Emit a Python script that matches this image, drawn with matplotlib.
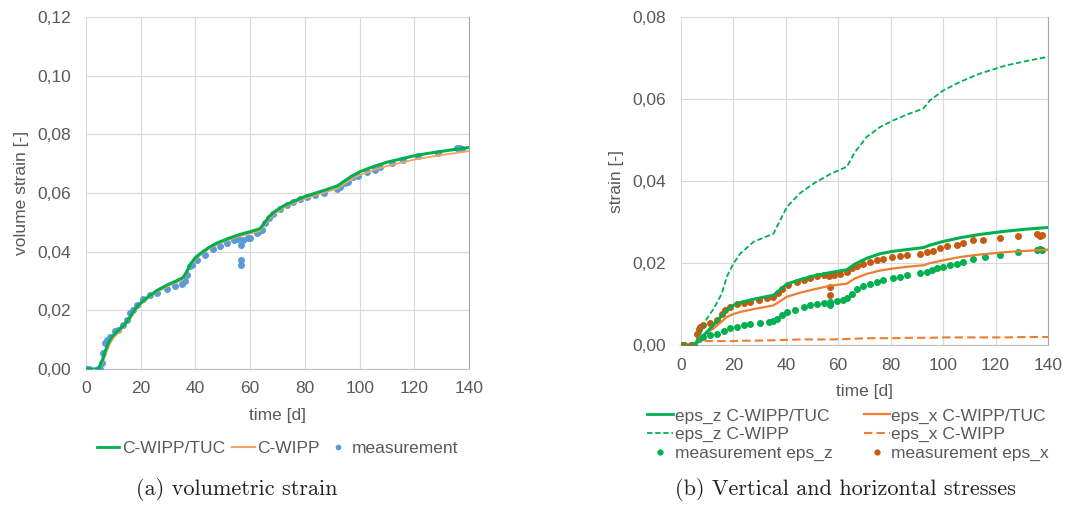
import matplotlib
matplotlib.use("Agg")
import matplotlib.pyplot as plt
from matplotlib.ticker import FuncFormatter, MultipleLocator
from matplotlib.lines import Line2D

# ---- (a) volumetric strain ----
t_model_a = [0, 4.5, 6, 7, 8, 9, 10, 12, 14, 16, 18, 20, 23, 26, 30, 33, 35.5, 37, 38.5, 40,
             42, 45, 48, 52, 56, 60, 63.5, 65, 67, 69, 72, 76, 80, 85, 89, 92, 94, 97, 100,
             105, 110, 115, 120, 125, 130, 135, 140]
vol_tuc = [0, 0, 0.003, 0.006, 0.0085, 0.0103, 0.0115, 0.0133, 0.015, 0.0175, 0.0205, 0.0225,
           0.0248, 0.0268, 0.0288, 0.030, 0.0312, 0.0335, 0.0362, 0.038, 0.0395, 0.0415, 0.043,
           0.0445, 0.0458, 0.0468, 0.0478, 0.0495, 0.052, 0.0537, 0.0555, 0.0572, 0.0588, 0.0603,
           0.0615, 0.0625, 0.0638, 0.0657, 0.0672, 0.069, 0.0705, 0.0716, 0.0727, 0.0735, 0.0742,
           0.0749, 0.0755]
vol_wipp = [0, 0, 0.002, 0.0045, 0.007, 0.009, 0.0105, 0.0125, 0.0145, 0.017, 0.0198, 0.022,
            0.0243, 0.0263, 0.0282, 0.0295, 0.0305, 0.033, 0.0357, 0.0375, 0.039, 0.041, 0.0425,
            0.044, 0.0452, 0.0462, 0.047, 0.0488, 0.0512, 0.053, 0.0548, 0.0566, 0.0581, 0.0596,
            0.0607, 0.0616, 0.0629, 0.0647, 0.0661, 0.0678, 0.0692, 0.0703, 0.0714, 0.0722, 0.073,
            0.0736, 0.0743]
t_meas_a = [0, 0.5, 1, 4.5, 5.1, 5.7, 6.3, 7, 7.6, 8.8, 10.6, 11.8, 13.6, 14.9, 16.1, 17.3, 18.5,
            21, 23.4, 25.8, 29.5, 32.5, 35, 36.2, 36.8, 38, 38.6, 40.4, 43.5, 46.5, 49, 51.4,
            53.9, 55.7, 56.5, 56.5, 56.5, 57.5, 59.3, 60, 62.4, 63, 64.2, 65.4, 66.7, 68.5, 70.9,
            73.4, 75.8, 78.2, 80.7, 83.7, 86.8, 91.6, 92.8, 94.7, 95.9, 97.7, 99.5, 102.6, 105.6,
            107.5, 111.7, 116, 121.5, 128.8, 135.5, 136.7, 137.3]
vol_meas = [0, 0, 0, 0, 0, 0.002, 0.0054, 0.0088, 0.010, 0.011, 0.0128, 0.0134, 0.015, 0.0168,
            0.019, 0.0202, 0.0219, 0.024, 0.0253, 0.026, 0.0274, 0.0284, 0.029, 0.030, 0.032,
            0.035, 0.0355, 0.037, 0.039, 0.041, 0.042, 0.0429, 0.0438, 0.0442, 0.0423, 0.0372,
            0.0353, 0.044, 0.0445, 0.0447, 0.0463, 0.0468, 0.0474, 0.0497, 0.0514, 0.053, 0.0544,
            0.0559, 0.057, 0.0578, 0.0587, 0.0593, 0.0601, 0.0612, 0.0619, 0.0633, 0.0638, 0.0656,
            0.0659, 0.0673, 0.068, 0.069, 0.0701, 0.0712, 0.0726, 0.0737, 0.0752, 0.0752, 0.0749]

# ---- (b) vertical and horizontal strains ----
t_model_b = [0, 5, 7.4, 9.9, 12.5, 15.6, 17.5, 20, 22.6, 27.7, 35.3, 40.4, 45.5, 50.6, 56.9,
             63.3, 66.4, 70.9, 76, 81, 86.1, 92.5, 95, 100.1, 106.5, 114, 124, 132, 140]
z_wipp = [0, 0, 0.0028, 0.0065, 0.0089, 0.0126, 0.0167, 0.0199, 0.0223, 0.0252, 0.0272, 0.0337,
          0.0371, 0.0394, 0.0417, 0.0435, 0.0471, 0.0508, 0.0532, 0.0548, 0.0562, 0.0577, 0.0597,
          0.0621, 0.0642, 0.0662, 0.0682, 0.0693, 0.0703]
z_tuc = [0, 0, 0.0016, 0.0032, 0.005, 0.0072, 0.0085, 0.0097, 0.0104, 0.0112, 0.0122, 0.0149,
         0.016, 0.0169, 0.0177, 0.0184, 0.0198, 0.0212, 0.0223, 0.0229, 0.0233, 0.0238, 0.0244,
         0.0253, 0.0262, 0.027, 0.0278, 0.0283, 0.0287]
x_tuc = [0, 0, 0.002, 0.0031, 0.0041, 0.0058, 0.0069, 0.0076, 0.0081, 0.0088, 0.0097, 0.0118,
         0.0128, 0.0136, 0.0145, 0.015, 0.0163, 0.0174, 0.0182, 0.0187, 0.0191, 0.0195, 0.02,
         0.0207, 0.0215, 0.0221, 0.0227, 0.023, 0.0233]
x_wipp = [0, 0, 0.001, 0.001, 0.001, 0.001, 0.001, 0.001, 0.0011, 0.0011, 0.0012, 0.0013,
          0.0014, 0.0014, 0.0014, 0.0015, 0.0016, 0.0017, 0.0017, 0.0017, 0.0018, 0.0018, 0.0018,
          0.0019, 0.0019, 0.0019, 0.0019, 0.002, 0.002]

t_meas_z = [0, 1, 4, 5, 6.7, 8.6, 11.2, 13.7, 16.3, 18.8, 21.3, 23.9, 26.4, 30.2, 33.4, 35.3,
            36.6, 38.5, 40.4, 43.6, 46.8, 49.3, 51.8, 54.4, 56.9, 56.9, 56.9, 59.5, 62, 63.3,
            65.2, 67.1, 69.6, 72.2, 74.7, 77.2, 81, 83.6, 86.1, 91.2, 93.8, 95.7, 97.6, 100.1,
            102.7, 105.2, 107.7, 111.5, 116, 121.7, 128.7, 135.7, 137, 137.6]
meas_z = [0, 0, 0, 0, 0.0014, 0.0019, 0.0024, 0.0028, 0.0035, 0.0041, 0.0045, 0.0049, 0.0051,
          0.0054, 0.0057, 0.0059, 0.0065, 0.0073, 0.008, 0.0087, 0.0093, 0.0097, 0.010, 0.0103,
          0.0106, 0.0101, 0.0098, 0.0108, 0.0111, 0.0114, 0.0126, 0.0136, 0.0144, 0.015, 0.0154,
          0.0158, 0.0164, 0.0167, 0.017, 0.0175, 0.0179, 0.0183, 0.0187, 0.0191, 0.0195, 0.0199,
          0.0203, 0.0209, 0.0214, 0.0219, 0.0226, 0.0231, 0.0234, 0.0232]
t_meas_x = [0, 1, 4, 6.1, 6.7, 7.4, 8.6, 11.2, 13.7, 15.6, 16.9, 18.8, 21.3, 23.9, 26.4, 29.6,
            32.8, 35.3, 37.2, 38.5, 41, 44.2, 46.8, 49.3, 51.8, 54.4, 56.6, 57, 57, 58.2, 60.7,
            63.3, 65.2, 67.1, 69.6, 72.2, 74.7, 77.2, 80.4, 83.6, 86.1, 91.2, 93.8, 96.3, 98.8,
            101.4, 105.2, 107.7, 111.5, 115.4, 121.7, 128.7, 135.7, 137, 137.6]
meas_x = [0, 0, 0, 0.0028, 0.004, 0.0045, 0.0049, 0.0054, 0.0061, 0.0077, 0.0085, 0.0093, 0.010,
          0.0103, 0.0106, 0.011, 0.0114, 0.0118, 0.0128, 0.0136, 0.0146, 0.0154, 0.016, 0.0165,
          0.0168, 0.017, 0.0168, 0.0142, 0.0122, 0.017, 0.0173, 0.0179, 0.0187, 0.0192, 0.0199,
          0.0203, 0.0207, 0.021, 0.0214, 0.0217, 0.0219, 0.0223, 0.0226, 0.0229, 0.0238, 0.0241,
          0.0245, 0.0248, 0.0256, 0.0257, 0.0262, 0.0266, 0.027, 0.0266, 0.0268]

GREEN = "#00B050"
ORANGE = "#ED7D31"
ORANGE_LIGHT = "#F4A261"
BROWN = "#C55A11"
BLUE = "#5B9BD5"
TXT = "#595959"
GRID = "#D9D9D9"

plt.rcParams["font.family"] = ["Liberation Sans", "DejaVu Sans"]
plt.rcParams["font.size"] = 12

comma = FuncFormatter(lambda v, p: f"{v:.2f}".replace(".", ","))


def style_axes(ax, ymax):
    ax.set_xlim(0, 140)
    ax.set_ylim(0, ymax)
    ax.xaxis.set_major_locator(MultipleLocator(20))
    ax.yaxis.set_major_locator(MultipleLocator(0.02))
    ax.yaxis.set_major_formatter(comma)
    ax.grid(True, color=GRID, lw=0.8)
    ax.set_axisbelow(True)
    for s in ["top", "left"]:
        ax.spines[s].set_visible(False)
    ax.spines["bottom"].set_color("#BFBFBF")
    ax.spines["right"].set_color("#A6A6A6")
    ax.tick_params(length=0, colors=TXT, labelsize=12.5)
    ax.tick_params(axis="y", pad=11)
    ax.tick_params(axis="x", pad=9)


fig = plt.figure(figsize=(10.7, 5.16), dpi=100)

ax1 = fig.add_axes([0.0804, 0.285, 0.358, 0.682])
style_axes(ax1, 0.12)
ax1.plot(t_meas_a, vol_meas, "o", color=BLUE, ms=4, label="measurement", zorder=3)
ax1.plot(t_model_a, vol_wipp, color=ORANGE_LIGHT, lw=1.3, label="C-WIPP", zorder=4)
ax1.plot(t_model_a, vol_tuc, color=GREEN, lw=2.2, label="C-WIPP/TUC", zorder=5)
ax1.set_xlabel("time [d]", color=TXT, fontsize=12.5, labelpad=8)
ax1.set_ylabel("volume strain [-]", color=TXT, fontsize=12.5, labelpad=6)
h1 = [Line2D([], [], color=GREEN, lw=2), Line2D([], [], color=ORANGE_LIGHT, lw=1.5),
      Line2D([], [], ls="", marker="o", ms=3, color=BLUE)]
ax1.legend(h1, ["C-WIPP/TUC", "C-WIPP", "measurement"], loc="upper center",
           bbox_to_anchor=(0.5, -0.16), ncol=3, frameon=False, fontsize=12.5,
           handlelength=1.3, handletextpad=0.15, columnspacing=0.4, labelcolor=TXT)

ax2 = fig.add_axes([0.6364, 0.331, 0.343, 0.636])
style_axes(ax2, 0.08)
ax2.plot(t_meas_z, meas_z, "o", color=GREEN, ms=4, zorder=3)
ax2.plot(t_meas_x, meas_x, "o", color=BROWN, ms=4, zorder=3)
ax2.plot(t_model_b, z_wipp, color=GREEN, lw=1.3, ls=(0, (3, 1.5)), zorder=4)
ax2.plot(t_model_b, x_wipp, color=ORANGE, lw=1.5, ls=(0, (4, 2)), zorder=4)
ax2.plot(t_model_b, x_tuc, color=ORANGE, lw=1.6, zorder=5)
ax2.plot(t_model_b, z_tuc, color=GREEN, lw=2.2, zorder=5)
ax2.set_xlabel("time [d]", color=TXT, fontsize=12.5, labelpad=8)
ax2.set_ylabel("strain [-]", color=TXT, fontsize=12.5, labelpad=6)
h2 = [Line2D([], [], color=GREEN, lw=2),
      Line2D([], [], color=GREEN, lw=1.3, ls=(0, (3, 1.5))),
      Line2D([], [], ls="", marker="o", ms=3.5, color=GREEN),
      Line2D([], [], color=ORANGE, lw=1.6),
      Line2D([], [], color=ORANGE, lw=1.5, ls=(0, (4, 2))),
      Line2D([], [], ls="", marker="o", ms=3.5, color=BROWN)]
l2 = ["eps_z C-WIPP/TUC", "eps_z C-WIPP", "measurement eps_z",
      "eps_x C-WIPP/TUC", "eps_x C-WIPP", "measurement eps_x"]
ax2.legend(h2, l2, loc="upper center", bbox_to_anchor=(0.455, -0.155), ncol=2, frameon=False,
           fontsize=12.5, handlelength=1.5, handletextpad=0.1, columnspacing=1.8,
           labelspacing=0.2, borderpad=0.2, labelcolor=TXT)

fig.text(0.2215, 0.052, "(a) volumetric strain", family="cmr10", fontsize=16,
         ha="center", va="center", color="#222222")
fig.text(0.79, 0.052, "(b) Vertical and horizontal stresses", family="cmr10",
         fontsize=16, ha="center", va="center", color="#222222")

fig.savefig("out.png", dpi=100)
